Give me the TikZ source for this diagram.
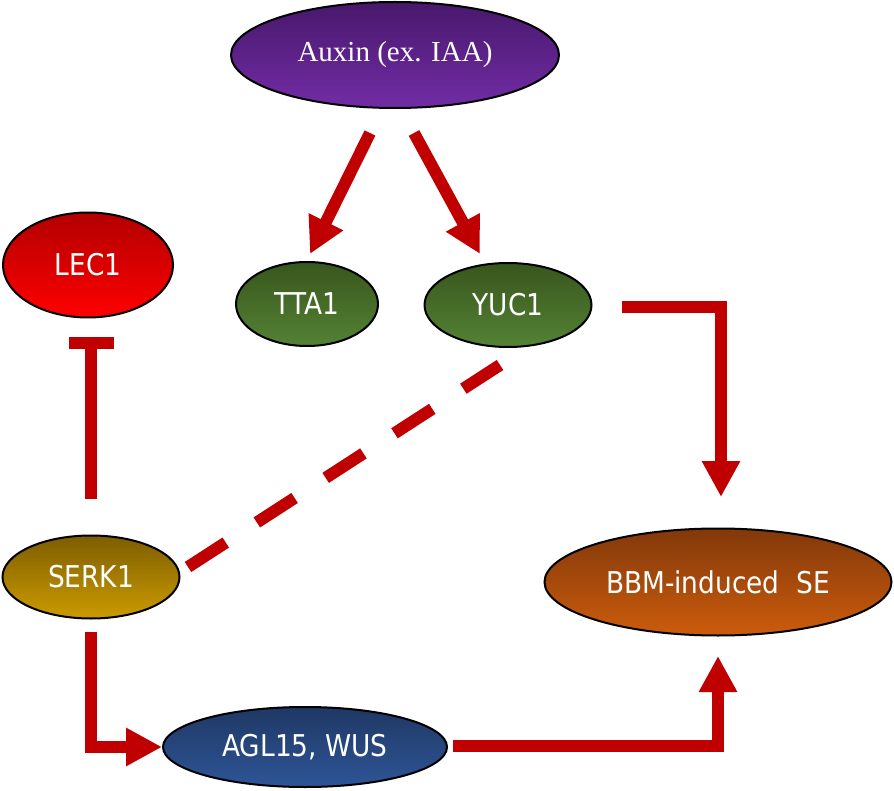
\documentclass[tikz,border=0pt]{standalone}
\usepackage{fontspec}
\setmainfont{Liberation Serif}
\newfontfamily\labfont{DejaVu Sans}[FakeStretch=0.88]
\usetikzlibrary{shapes.geometric,arrows.meta}
\definecolor{arrowred}{RGB}{192,0,0}
\definecolor{auxtop}{RGB}{72,24,108}
\definecolor{auxbot}{RGB}{114,44,165}
\definecolor{lectop}{RGB}{178,0,0}
\definecolor{lecbot}{RGB}{255,0,0}
\definecolor{grntop}{RGB}{56,86,28}
\definecolor{grnbot}{RGB}{84,130,53}
\definecolor{sertop}{RGB}{125,93,0}
\definecolor{serbot}{RGB}{204,155,0}
\definecolor{bbmtop}{RGB}{130,56,10}
\definecolor{bbmbot}{RGB}{204,92,12}
\definecolor{agltop}{RGB}{31,56,100}
\definecolor{aglbot}{RGB}{46,85,151}
\begin{document}
\begin{tikzpicture}[x=1pt,y=-1pt,
  bub/.style={ellipse, draw=black, line width=2pt, inner sep=0pt, text=white,
    font=\labfont\fontsize{30}{35}\selectfont},
  link/.style={draw=arrowred, line width=12pt, line join=miter},
  tip/.style={-{Triangle[length=36pt,width=36pt]}}]
\useasboundingbox (0,0) rectangle (894,791);
% nodes
\node[bub, minimum width=328pt, minimum height=106pt, top color=auxtop, bottom color=auxbot,
  font=\rmfamily\fontsize{29}{34}\selectfont] (aux) at (395,55) {Auxin (ex. IAA)};
\node[bub, minimum width=170pt, minimum height=105pt, top color=lectop, bottom color=lecbot] (lec) at (88,265) {LEC1};
\node[bub, minimum width=142pt, minimum height=84pt, top color=grntop, bottom color=grnbot] (tta) at (307,304) {TTA1};
\node[bub, minimum width=167pt, minimum height=84pt, top color=grntop, bottom color=grnbot] (yuc) at (508,305) {YUC1};
\node[bub, minimum width=177pt, minimum height=83pt, top color=sertop, bottom color=serbot] (serk) at (91,577) {SERK1};
\node[bub, minimum width=347pt, minimum height=107pt, top color=bbmtop, bottom color=bbmbot] (bbm) at (718,582) {BBM-induced\ \ SE};
\node[bub, minimum width=284pt, minimum height=80pt, top color=agltop, bottom color=aglbot] (agl) at (305,747) {AGL15, WUS};
% connector ends
\coordinate (a1s) at (370,133); \coordinate (a1e) at (310,254);
\coordinate (a2s) at (414,133); \coordinate (a2e) at (480,254);
\coordinate (ybs) at (622,307); \coordinate (ybe) at (721,497);
\coordinate (sls) at (91,499);  \coordinate (sle) at (91,337);
\coordinate (sas) at (91,632);  \coordinate (sae) at (162,747);
\coordinate (abs) at (453,746); \coordinate (abe) at (718,656);
\coordinate (sys) at (188,567); \coordinate (sye) at (500,365);
% connectors
\draw[link,tip] (a1s) -- (a1e);
\draw[link,tip] (a2s) -- (a2e);
\draw[link,tip] (ybs) -| (ybe);
\draw[link,-{Bar[width=45pt]}] (sls) -- (sle);
\draw[link,tip] (sas) |- (sae);
\draw[link,tip] (abs) -| (abe);
\draw[link, dash pattern=on 45pt off 37pt] (sys) -- (sye);
\end{tikzpicture}
\end{document}
